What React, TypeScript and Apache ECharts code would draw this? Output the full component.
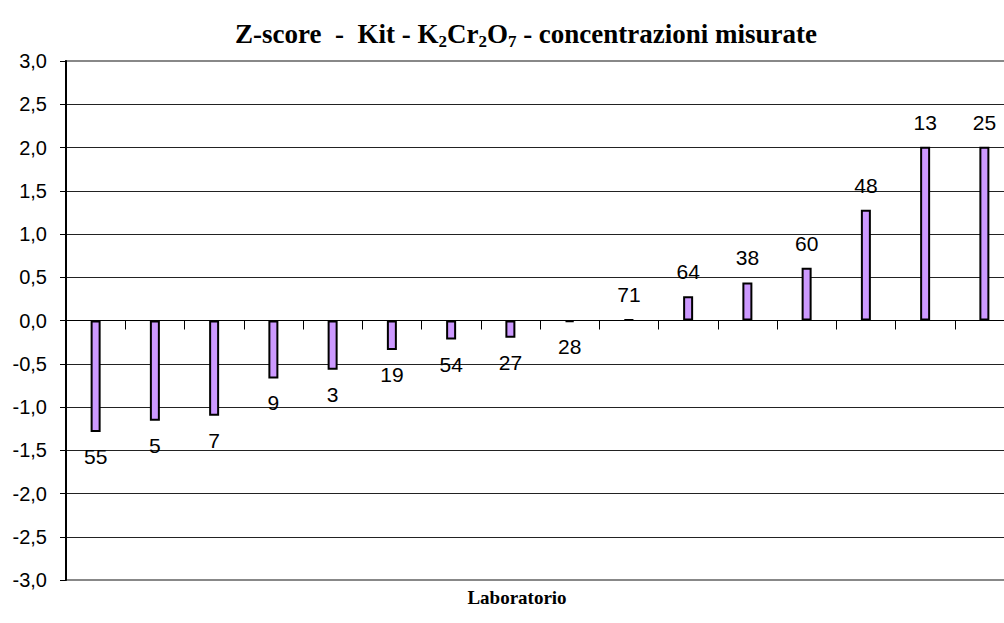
import React, { useEffect, useRef } from "react";
import * as echarts from "echarts";

const laboratories = ["55", "5", "7", "9", "3", "19", "54", "27", "28", "71", "64", "38", "60", "48", "13", "25"];
const zScores = [-1.29, -1.16, -1.1, -0.67, -0.57, -0.34, -0.22, -0.2, -0.02, 0.01, 0.28, 0.44, 0.61, 1.28, 2.01, 2.01];
const yMin = -3;
const yMax = 3;
const yStep = 0.5;

export default function App() {
  const ref = useRef<HTMLDivElement>(null);
  useEffect(() => {
    if (!ref.current) return;
    const chart = echarts.init(ref.current, null, { renderer: "svg" });
    const data = zScores.map((v) => ({
      value: v,
      label: { position: v >= 0 ? "top" : "bottom" },
    }));
    const serif = "'Liberation Serif', 'Times New Roman', serif";
    chart.setOption({
      animation: false,
      backgroundColor: "#fff",
      title: {
        text: "{b|Z-score  -  Kit - K}{s|2}{b|Cr}{s|2}{b|O}{s|7}{b| - concentrazioni misurate}",
        left: 521,
        textAlign: "center",
        top: 12,
        textStyle: {
          fontFamily: serif,
          fontWeight: "bold",
          fontSize: 27,
          color: "#000",
          rich: {
            b: { fontFamily: serif, fontWeight: "bold", fontSize: 27, color: "#000", lineHeight: 33 },
            s: { fontFamily: serif, fontWeight: "bold", fontSize: 17, color: "#000", lineHeight: 20, verticalAlign: "bottom" },
          },
        },
      },
      graphic: [
        {
          type: "text",
          x: 517,
          y: 597,
          style: {
            text: "Laboratorio",
            font: "bold 19px 'Liberation Serif'",
            fill: "#000",
            textAlign: "center",
            textVerticalAlign: "middle",
          },
        },
      ],
      grid: {
        left: 66,
        top: 61,
        bottom: 43,
        right: -10,
        outerBoundsMode: "none",
        containLabel: false,
        show: true,
        borderColor: "#888",
        borderWidth: 2,
        backgroundColor: "transparent",
      },
      xAxis: {
        type: "category",
        data: laboratories,
        axisLine: { onZero: true, lineStyle: { color: "#000", width: 1 } },
        axisTick: { show: true, interval: 0, length: 9, alignWithLabel: false, lineStyle: { color: "#000" } },
        axisLabel: { show: false },
        splitLine: { show: false },
      },
      yAxis: {
        type: "value",
        min: yMin,
        max: yMax,
        interval: yStep,
        axisLine: { show: true, lineStyle: { color: "#000", width: 2 } },
        axisTick: { show: true, length: 6, lineStyle: { color: "#000" } },
        axisLabel: {
          margin: 19,
          fontFamily: "Liberation Sans",
          fontSize: 20,
          color: "#000",
          formatter: (v: number) => v.toFixed(1).replace(".", ","),
        },
        splitLine: { show: true, showMinLine: false, showMaxLine: false, lineStyle: { color: "#222", width: 1 } },
      },
      series: [
        {
          type: "bar",
          data,
          barWidth: 10,
          itemStyle: { color: "#CC99FF", borderColor: "#000", borderWidth: 2 },
          label: {
            show: true,
            formatter: "{b}",
            distance: 14,
            fontFamily: "Liberation Sans",
            fontSize: 21,
            color: "#000",
          },
        },
      ],
    });
    return () => chart.dispose();
  }, []);
  return <div ref={ref} style={{ position: "fixed", left: 0, top: 0, width: 1004, height: 623 }} />;
}
